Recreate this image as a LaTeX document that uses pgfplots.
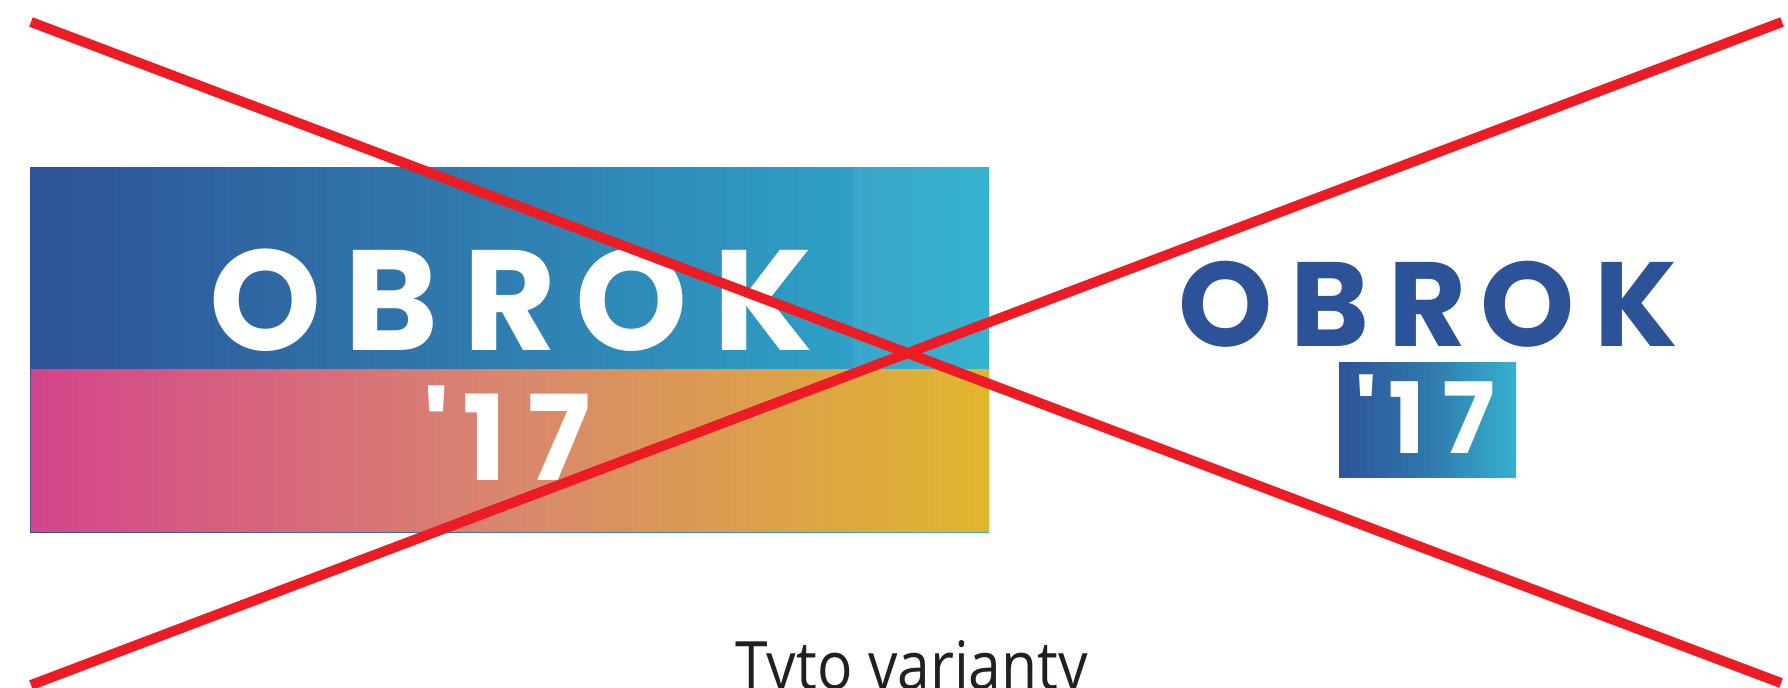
\documentclass[border=0pt]{standalone}
\usepackage{pgfplots}
\pgfplotsset{compat=1.18}
\usepackage{fontspec}
\newfontfamily\pop{Poppins}
\newfontfamily\osans{Open Sans}
\definecolor{xred}{HTML}{ED1C24}
\definecolor{tb1}{HTML}{2D5398}
\definecolor{tb2}{HTML}{3078AC}
\definecolor{tb3}{HTML}{2EA0C6}
\definecolor{tb4}{HTML}{3BA6C9}
\definecolor{tb5}{HTML}{34B2CE}
\definecolor{bb1}{HTML}{D4458B}
\definecolor{bb2}{HTML}{D9876E}
\definecolor{bb3}{HTML}{E0B62D}
\definecolor{logoblue}{HTML}{2C5398}
\definecolor{txt}{HTML}{231F20}
\begin{document}
\begin{tikzpicture}
\begin{axis}[name=ax, at={(0,0)}, anchor=south west,
  width=178.8mm, height=68.7mm, scale only axis,
  xmin=0, xmax=1788, ymin=0, ymax=687, y dir=reverse,
  hide axis, clip=true]
% big logo: top band (full height first, gives thin outline)
\addplot[draw=none, left color=tb1, right color=tb3, middle color=tb2, forget plot]
  coordinates {(30,168) (854,168) (854,532.5) (30,532.5) (30,168)};
\addplot[draw=none, left color=tb4, right color=tb5, forget plot]
  coordinates {(853,168) (989,168) (989,532.5) (853,532.5) (853,168)};
% bottom band
\addplot[draw=none, left color=bb1, right color=bb3, middle color=bb2, forget plot]
  coordinates {(30.8,369) (989,369) (989,531.5) (30.8,531.5) (30.8,369)};
% small logo box
\addplot[draw=none, left color=tb1, right color=tb5, middle color=tb2, forget plot]
  coordinates {(1339,362) (1516,362) (1516,477) (1339,477) (1339,362)};
% big OBROK
\begin{scope}[every node/.style={inner sep=0pt, anchor=base, text=white}]
\node at (axis cs:265.5,350) {\pop\bfseries\fontsize{40.6pt}{40.6pt}\selectfont O};
\node at (axis cs:392,350) {\pop\bfseries\fontsize{40.6pt}{40.6pt}\selectfont B};
\node at (axis cs:510,350) {\pop\bfseries\fontsize{40.6pt}{40.6pt}\selectfont R};
\node at (axis cs:632,350) {\pop\bfseries\fontsize{40.6pt}{40.6pt}\selectfont O};
\node at (axis cs:763.5,350) {\pop\bfseries\fontsize{40.6pt}{40.6pt}\selectfont K};
% big '17
\node at (axis cs:436.5,480) {\pop\bfseries\fontsize{33.7pt}{33.7pt}\selectfont \textquotesingle};
\node at (axis cs:485,480) {\pop\bfseries\fontsize{33.7pt}{33.7pt}\selectfont 1};
\node at (axis cs:559.5,480) {\pop\bfseries\fontsize{33.7pt}{33.7pt}\selectfont 7};
% small '17
\node at (axis cs:1366.8,453) {\pop\bfseries\fontsize{28pt}{28pt}\selectfont \textquotesingle};
\node at (axis cs:1406.5,453) {\pop\bfseries\fontsize{28pt}{28pt}\selectfont 1};
\node at (axis cs:1468.3,453) {\pop\bfseries\fontsize{28pt}{28pt}\selectfont 7};
\end{scope}
% small OBROK
\begin{scope}[every node/.style={inner sep=0pt, anchor=base, text=logoblue}]
\node at (axis cs:1225.5,346) {\pop\bfseries\fontsize{34.1pt}{34.1pt}\selectfont O};
\node at (axis cs:1330,346) {\pop\bfseries\fontsize{34.1pt}{34.1pt}\selectfont B};
\node at (axis cs:1427.5,346) {\pop\bfseries\fontsize{34.1pt}{34.1pt}\selectfont R};
\node at (axis cs:1527.8,346) {\pop\bfseries\fontsize{34.1pt}{34.1pt}\selectfont O};
\node at (axis cs:1635.8,346) {\pop\bfseries\fontsize{34.1pt}{34.1pt}\selectfont K};
\end{scope}
% caption text
\node[inner sep=0pt, anchor=base west, text=txt, xscale=0.88] at (axis cs:735,689)
  {\osans\fontsize{19pt}{19pt}\selectfont Tyto varianty};
% red X
\addplot[color=xred, line width=2.85pt, line cap=butt, forget plot]
  coordinates {(31,22) (1781,683)};
\addplot[color=xred, line width=2.85pt, line cap=butt, forget plot]
  coordinates {(31,685) (1782,22)};
\end{axis}
\pgfresetboundingbox
\path[use as bounding box] (ax.south west) rectangle (ax.north east);
\end{tikzpicture}
\end{document}
